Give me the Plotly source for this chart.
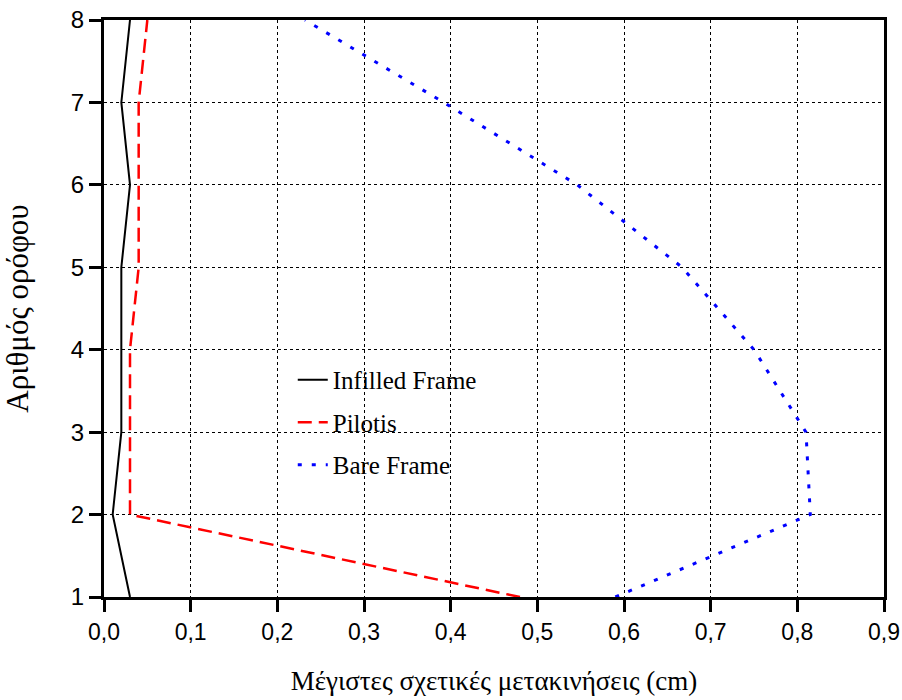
import plotly.graph_objects as go

floors = [1, 2, 3, 4, 5, 6, 7, 8]
infilled = [0.03, 0.01, 0.02, 0.02, 0.02, 0.03, 0.02, 0.03]
pilotis = [0.48, 0.03, 0.03, 0.03, 0.04, 0.04, 0.04, 0.05]
bare = [0.59, 0.815, 0.81, 0.75, 0.667, 0.546, 0.392, 0.232]

x_ticks = [0.0, 0.1, 0.2, 0.3, 0.4, 0.5, 0.6, 0.7, 0.8, 0.9]
y_ticks = [1, 2, 3, 4, 5, 6, 7, 8]

serif = "Liberation Serif, Times New Roman, serif"
sans = "Liberation Sans, Arial, sans-serif"

fig = go.Figure()
fig.add_trace(go.Scatter(x=infilled, y=floors, mode="lines", name="Infilled Frame",
                         legendgroup="a", line=dict(color="black", width=2)))
fig.add_trace(go.Scatter(x=pilotis, y=floors, mode="lines", name="Pilotis",
                         legendgroup="b", line=dict(color="#ff0000", width=2.5, dash="14px,7px")))
fig.add_trace(go.Scatter(x=bare, y=floors, mode="lines", name="Bare Frame",
                         legendgroup="c", line=dict(color="#0000ff", width=3, dash="4px,10px")))

fig.update_layout(
    width=902, height=700,
    margin=dict(l=104, r=18, t=20, b=103),
    paper_bgcolor="white", plot_bgcolor="white",
    separators=",.",
    showlegend=True,
    legend=dict(x=0.242, y=0.416, xanchor="left", yanchor="top",
                font=dict(family=serif, size=25, color="black"),
                bgcolor="rgba(0,0,0,0)", traceorder="grouped", tracegroupgap=7),
    xaxis=dict(range=[0, 0.9], tickvals=x_ticks, tickformat=".1f", automargin=False,
               ticklabeloverflow="allow",
               showline=True, linecolor="black", linewidth=3, mirror=True,
               ticks="outside", ticklen=12, tickwidth=2.5, tickcolor="black",
               showgrid=True, gridcolor="black", gridwidth=1, griddash="dot",
               zeroline=False,
               tickfont=dict(family=sans, size=23, color="black"),
               title=dict(text="Μέγιστες σχετικές μετακινήσεις (cm)",
                          font=dict(family=serif, size=27, color="black"), standoff=28)),
    yaxis=dict(range=[1, 8], tickvals=y_ticks, automargin=False,
               ticklabeloverflow="allow",
               showline=True, linecolor="black", linewidth=3, mirror=True,
               ticks="outside", ticklen=12, tickwidth=2.5, tickcolor="black",
               showgrid=True, gridcolor="black", gridwidth=1, griddash="dot",
               zeroline=False,
               tickfont=dict(family=sans, size=24, color="black"),
               title=dict(text="Αριθμός ορόφου",
                          font=dict(family=serif, size=31, color="black"), standoff=50)),
)

fig.write_html("out.html", config={"displayModeBar": False},
               post_script="document.body.style.margin='0';")
